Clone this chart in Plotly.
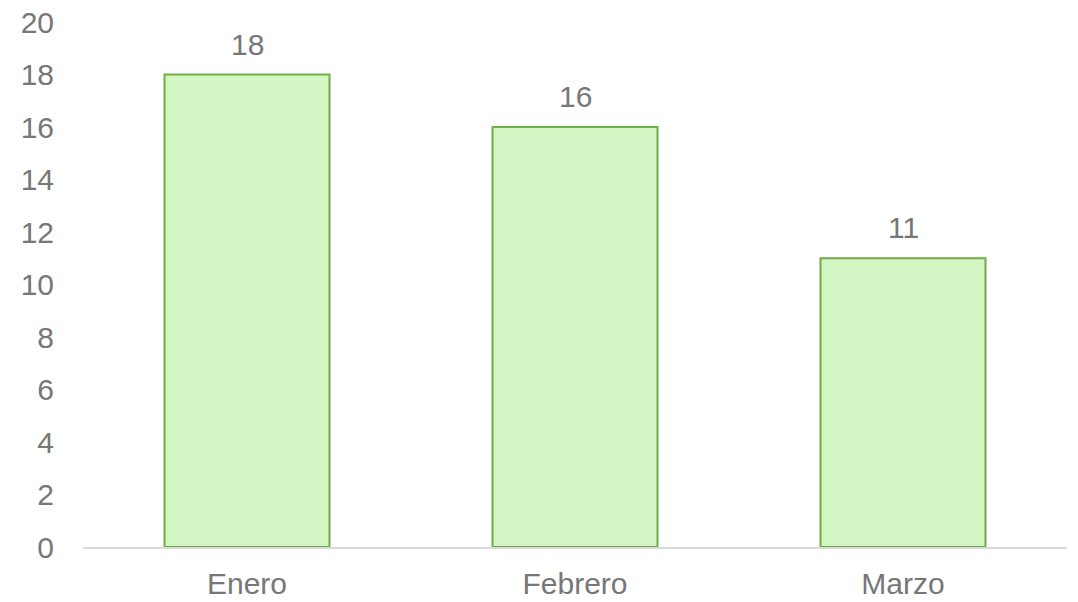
import plotly.graph_objects as go

months = ['Enero', 'Febrero', 'Marzo']
counts = [18, 16, 11]
y_ticks = list(range(0, 21, 2))

fig = go.Figure()

fig.add_trace(
    go.Bar(
        x=months,
        y=counts,
        marker=dict(color='#d3f5c3', line=dict(color='#70ad47', width=2)),
        showlegend=False,
    )
)

# value labels above each bar
for m, c in zip(months, counts):
    fig.add_annotation(
        x=m, y=c, text=str(c), showarrow=False,
        yanchor='bottom', yshift=12,
        font=dict(size=30, color='#777777'),
    )

# page body has an 8px margin, so the figure is sized to fit inside it
fig.update_layout(
    width=1070,
    height=594,
    margin=dict(l=75, r=11, t=14, b=55),
    paper_bgcolor='white',
    plot_bgcolor='white',
    bargap=0.497,
    font=dict(family='Liberation Sans, Arial, sans-serif', size=30, color='#777777'),
    xaxis=dict(
        showline=True, linecolor='#d9d9d9', linewidth=2,
        showgrid=False, ticks='', ticklabelstandoff=9, automargin=False,
        ticklabeloverflow='allow',
    ),
    yaxis=dict(
        range=[0, 20], tickvals=y_ticks, showgrid=False, zeroline=False,
        showline=False, ticks='', ticklabelstandoff=28, automargin=False,
        ticklabeloverflow='allow',
    ),
)

fig.write_html('out.html')
